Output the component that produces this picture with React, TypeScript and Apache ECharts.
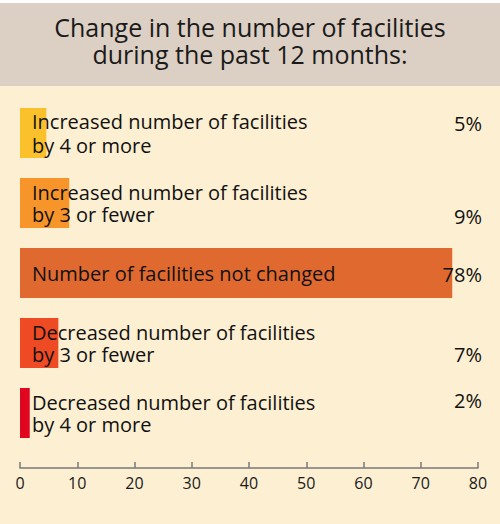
import React, { useEffect, useRef } from 'react';
import * as echarts from 'echarts';

const categories = [
  'Increased number of facilities\nby 4 or more',
  'Increased number of facilities\nby 3 or fewer',
  'Number of facilities not changed',
  'Decreased number of facilities\nby 3 or fewer',
  'Decreased number of facilities\nby 4 or more',
];
// bar lengths as drawn in the picture
const barValues = [4.6, 8.6, 75.5, 6.7, 1.7];
const pctLabels = ['5%', '9%', '78%', '7%', '2%'];
const barColors = ['#fbc12d', '#f7952b', '#e0692f', '#ee4a24', '#e1061f'];
const lineHeights = [24, 22, 24, 22, 22];
const pctOffsets = [15, 38, 26, 36, 12];

const FONT = '"Open Sans", sans-serif';

const App: React.FC = () => {
  const chartRef = useRef<HTMLDivElement>(null);

  useEffect(() => {
    document.body.style.margin = '0';
    if (!chartRef.current) return;
    const chart = echarts.init(chartRef.current, undefined, { renderer: 'svg' });

    chart.setOption({
      animation: false,
      backgroundColor: '#fdefd2',
      textStyle: { fontFamily: FONT },
      graphic: [
        { type: 'rect', left: 0, top: 0, shape: { width: 500, height: 3 }, style: { fill: '#ffffff' }, z: -1 },
        { type: 'rect', left: 0, top: 3, shape: { width: 500, height: 83 }, style: { fill: '#dccfc3' }, z: -1 },
      ],
      title: {
        text: 'Change in the number of facilities\nduring the past 12 months:',
        left: 'center',
        top: 8,
        textStyle: {
          fontFamily: FONT,
          fontSize: 25,
          fontWeight: 'normal',
          lineHeight: 27,
          color: '#1a1a1a',
        },
      },
      grid: { left: 20, right: 22, top: 98, height: 350, containLabel: false },
      xAxis: {
        type: 'value',
        min: 0,
        max: 80,
        interval: 10,
        offset: 20,
        splitLine: { show: false },
        axisLine: { show: true, lineStyle: { color: '#7a7a7a', width: 1.5 } },
        axisTick: { show: true, inside: true, length: 6, lineStyle: { color: '#7a7a7a', width: 1.5 } },
        axisLabel: { color: '#1a1a1a', fontSize: 16, margin: 7, fontFamily: FONT },
      },
      yAxis: {
        type: 'category',
        inverse: true,
        data: categories,
        show: false,
      },
      series: [
        {
          type: 'bar',
          barWidth: 50,
          data: barValues.map((v, i) => ({
            value: v,
            itemStyle: { color: barColors[i] },
            label: { lineHeight: lineHeights[i] },
          })),
          label: {
            show: true,
            position: 'insideLeft',
            distance: 12,
            formatter: (p: any) => categories[p.dataIndex],
            color: '#111',
            fontSize: 20,
            fontFamily: FONT,
          },
        },
        {
          type: 'bar',
          barWidth: 50,
          barGap: '-100%',
          silent: true,
          itemStyle: { color: 'rgba(0,0,0,0)' },
          data: barValues.map((v, i) => ({
            value: v,
            label: { position: [462, pctOffsets[i]] },
          })),
          label: {
            show: true,
            align: 'right',
            verticalAlign: 'middle',
            formatter: (p: any) => pctLabels[p.dataIndex],
            color: '#111',
            fontSize: 20,
            fontFamily: FONT,
          },
        },
      ],
    });

    return () => chart.dispose();
  }, []);

  return <div ref={chartRef} style={{ width: 500, height: 524 }} />;
};

export default App;
